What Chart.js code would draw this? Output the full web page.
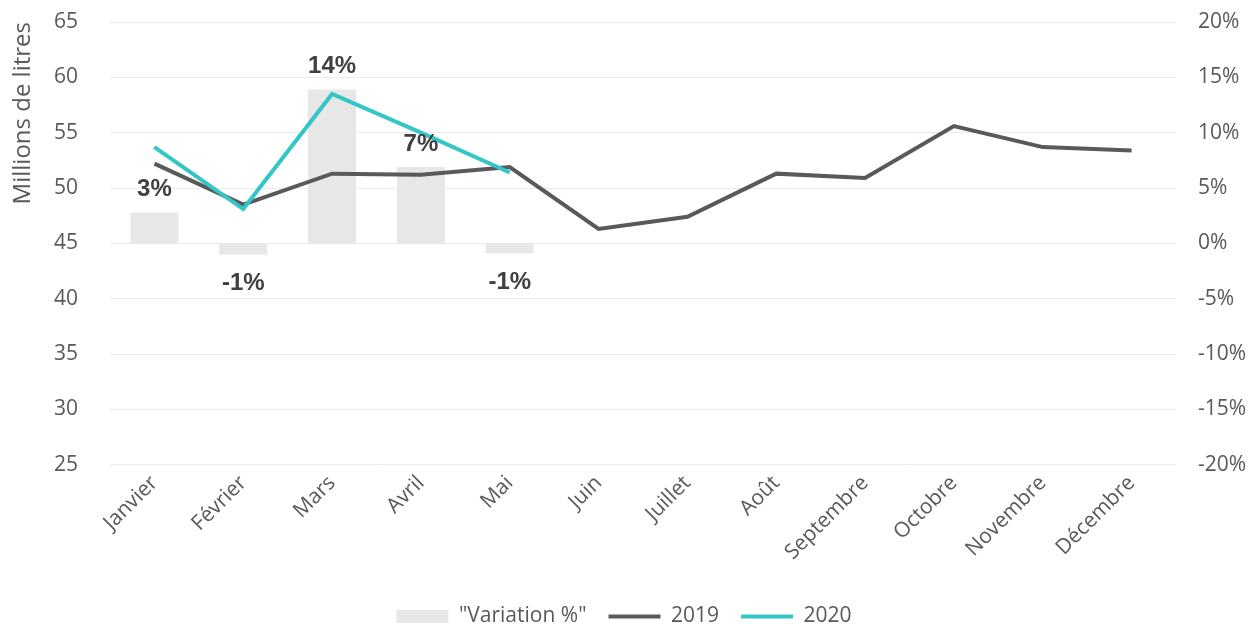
<!DOCTYPE html>
<html>
<head>
<meta charset="utf-8">
<script src="https://cdn.jsdelivr.net/npm/chart.js@4"></script>
<style>
  html, body { margin: 0; padding: 0; background: #fff; }
  #wrap { width: 1250px; height: 624px; }
</style>
</head>
<body>
<div id="wrap"><canvas id="chart"></canvas></div>
<script>
const months = ['Janvier', 'Février', 'Mars', 'Avril', 'Mai', 'Juin', 'Juillet', 'Août', 'Septembre', 'Octobre', 'Novembre', 'Décembre']
const variation = [0.028, -0.010, 0.139, 0.069, -0.009, null, null, null, null, null, null, null]
const values2019 = [52.2, 48.5, 51.3, 51.2, 51.9, 46.3, 47.4, 51.3, 50.9, 55.6, 53.7, 53.4]
const values2020 = [53.7, 48.1, 58.5, 55.0, 51.4, null, null, null, null, null, null, null]

const tickColor = '#595959'
const font = { family: '"Open Sans", sans-serif', size: 21 }

// labels du pourcentage au-dessus / en-dessous des barres
const barLabels = {
    id: 'barLabels',
    afterDatasetsDraw(chart) {
        const ctx = chart.ctx
        const meta = chart.getDatasetMeta(0)
        ctx.save()
        ctx.font = 'bold 24px "Liberation Sans", Arial, sans-serif'
        ctx.fillStyle = '#404040'
        ctx.textAlign = 'center'
        ctx.textBaseline = 'middle'
        meta.data.forEach((bar, i) => {
            const v = variation[i]
            if (v === null) return
            const txt = Math.round(v * 100) + '%'
            const y = v >= 0 ? bar.y - 23 : bar.y + 29
            ctx.fillText(txt, bar.x, y)
        })
        ctx.restore()
    }
}

// descendre un peu la légende
const legendShift = {
    id: 'legendShift',
    afterLayout(chart) {
        const lg = chart.legend
        lg.top += 13
        lg.bottom += 13
        lg.left -= 3
        lg.right -= 3
    }
}

// le padding des ticks ne doit pas pousser le haut du graphe
const fixY = width => s => {
    s.width = width
    s.paddingTop = 22
    s.paddingBottom = 0
}

new Chart(document.getElementById('chart'), {
    data: {
        labels: months,
        datasets: [
            {
                type: 'bar',
                label: '"Variation %"',
                data: variation,
                yAxisID: 'yRight',
                backgroundColor: '#E7E7E7',
                barPercentage: 0.54,
                categoryPercentage: 1,
                pointStyle: 'rect',
                order: 2
            },
            {
                type: 'line',
                label: '2019',
                data: values2019,
                yAxisID: 'yLeft',
                borderColor: '#595959',
                backgroundColor: '#595959',
                borderWidth: 4,
                pointRadius: 0,
                pointStyle: 'line',
                tension: 0,
                order: 1
            },
            {
                type: 'line',
                label: '2020',
                data: values2020,
                yAxisID: 'yLeft',
                borderColor: '#33C6C6',
                backgroundColor: '#33C6C6',
                borderWidth: 4,
                pointRadius: 0,
                pointStyle: 'line',
                tension: 0,
                order: 0
            }
        ]
    },
    options: {
        responsive: true,
        maintainAspectRatio: false,
        animation: false,
        layout: { padding: { top: 0, left: 4, right: 0, bottom: 0 } },
        plugins: {
            tooltip: { enabled: false },
            legend: {
                position: 'bottom',
                labels: {
                    usePointStyle: true,
                    pointStyleWidth: 52,
                    boxWidth: 52,
                    boxHeight: 13,
                    padding: 22,
                    color: tickColor,
                    font: font,
                    sort: (a, b) => a.datasetIndex - b.datasetIndex
                }
            }
        },
        scales: {
            x: {
                grid: { display: false, drawTicks: false },
                border: { display: false },
                ticks: { color: tickColor, font: font, minRotation: 45, maxRotation: 45, padding: 6 }
            },
            yLeft: {
                position: 'left',
                min: 25,
                max: 65,
                afterFit: fixY(106),
                ticks: { stepSize: 5, color: tickColor, font: font, padding: 32 },
                grid: { color: '#EBEBEB', lineWidth: 1, drawTicks: false },
                border: { display: false },
                title: {
                    display: true,
                    text: 'Millions de litres',
                    align: 'end',
                    color: tickColor,
                    font: { family: '"Open Sans", sans-serif', size: 24 },
                    padding: { top: 5, bottom: 0 }
                }
            },
            yRight: {
                position: 'right',
                min: -0.2,
                max: 0.2,
                afterFit: fixY(74),
                ticks: {
                    stepSize: 0.05,
                    color: tickColor,
                    font: font,
                    padding: 22,
                    callback: v => Math.round(v * 100) + '%'
                },
                grid: { display: false, drawTicks: false },
                border: { display: false }
            }
        }
    },
    plugins: [barLabels, legendShift]
})
</script>
</body>
</html>
